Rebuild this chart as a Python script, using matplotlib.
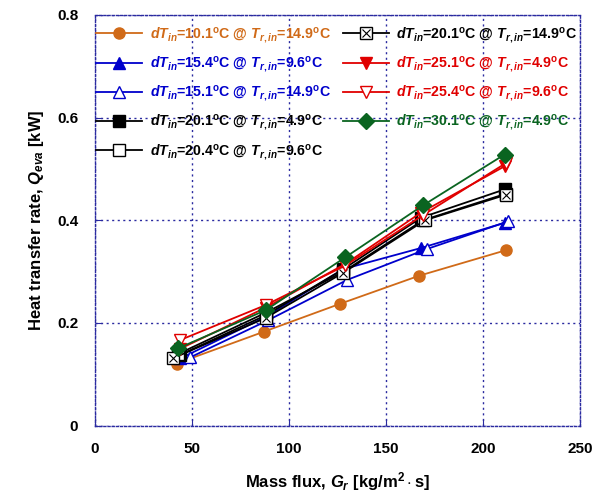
import matplotlib
matplotlib.use("Agg")
import matplotlib.pyplot as plt
from matplotlib.legend_handler import HandlerTuple

plt.rcParams['font.family'] = ['Liberation Sans', 'DejaVu Sans']
plt.rcParams['font.weight'] = 'bold'
plt.rcParams['mathtext.fontset'] = 'custom'
plt.rcParams['mathtext.rm'] = 'Liberation Sans:bold'
plt.rcParams['mathtext.it'] = 'Liberation Sans:italic:bold'
plt.rcParams['mathtext.bf'] = 'Liberation Sans:bold'

# series data: mass flux G_r and Q_eva
labels = [
    r'$dT_{in}$=10.1$^{\rm o}$C @ $T_{r,in}$=14.9$^{\rm o}$C',
    r'$dT_{in}$=15.4$^{\rm o}$C @ $T_{r,in}$=9.6$^{\rm o}$C',
    r'$dT_{in}$=15.1$^{\rm o}$C @ $T_{r,in}$=14.9$^{\rm o}$C',
    r'$dT_{in}$=20.1$^{\rm o}$C @ $T_{r,in}$=4.9$^{\rm o}$C',
    r'$dT_{in}$=20.4$^{\rm o}$C @ $T_{r,in}$=9.6$^{\rm o}$C',
    r'$dT_{in}$=20.1$^{\rm o}$C @ $T_{r,in}$=14.9$^{\rm o}$C',
    r'$dT_{in}$=25.1$^{\rm o}$C @ $T_{r,in}$=4.9$^{\rm o}$C',
    r'$dT_{in}$=25.4$^{\rm o}$C @ $T_{r,in}$=9.6$^{\rm o}$C',
    r'$dT_{in}$=30.1$^{\rm o}$C @ $T_{r,in}$=4.9$^{\rm o}$C',
]
x_vals = [
    [42, 87, 126, 167, 212],
    [44, 88, 128, 168, 211],
    [49, 89, 130, 171, 213],
    [44, 88, 128, 168, 211],
    [43, 88, 128, 169, 212],
    [40, 88, 128, 170, 212],
    [44, 88, 129, 168, 211],
    [44, 88, 129, 169, 212],
    [43, 88, 129, 169, 211],
]
q_vals = [
    [0.121, 0.183, 0.237, 0.292, 0.342],
    [0.131, 0.212, 0.305, 0.346, 0.395],
    [0.133, 0.205, 0.284, 0.344, 0.398],
    [0.138, 0.215, 0.305, 0.405, 0.460],
    [0.140, 0.220, 0.300, 0.400, 0.452],
    [0.131, 0.210, 0.298, 0.400, 0.450],
    [0.150, 0.230, 0.315, 0.415, 0.505],
    [0.167, 0.235, 0.312, 0.410, 0.512],
    [0.151, 0.225, 0.328, 0.429, 0.528],
]

orange = '#d06a18'
blue = '#0000cc'
red = '#e00000'
green = '#0a6420'
colors = [orange, blue, blue, 'black', 'black', 'black', red, red, green]
markers = ['o', '^', '^', 's', 's', 's', 'v', 'v', 'D']
filled = [True, True, False, True, False, False, True, False, True]

fig = plt.figure(figsize=(6.05, 4.95), dpi=100)
ax = fig.add_axes([0.157, 0.140, 0.802, 0.830])

handles = []
for i in range(len(labels)):
    c = colors[i]
    fc = c if filled[i] else 'white'
    ln, = ax.plot(x_vals[i], q_vals[i], color=c, lw=1.3, marker=markers[i],
                  markersize=8, markerfacecolor=fc, markeredgecolor=c,
                  markeredgewidth=1.0)
    if i == 5:
        xm, = ax.plot(x_vals[i], q_vals[i], ls='none', marker='x', color=c,
                      markersize=6, markeredgewidth=0.8)
        handles.append((ln, xm))
    else:
        handles.append(ln)

grid_c = '#2a2aa0'
ax.set_xlim(0, 250)
ax.set_ylim(0, 0.8)
ax.set_xticks([0, 50, 100, 150, 200, 250])
ax.set_yticks([0, 0.2, 0.4, 0.6, 0.8])
ax.set_yticklabels(['0', '0.2', '0.4', '0.6', '0.8'])
ax.grid(True, color=grid_c, ls=(0, (1.5, 2.5)), lw=1.0)
ax.set_axisbelow(True)
for sp in ax.spines.values():
    sp.set_color(grid_c)
    sp.set_linestyle((0, (1.5, 1.5)))
    sp.set_linewidth(1.0)
ax.tick_params(direction='in', length=5, color=grid_c, labelsize=11, pad=12)

ax.set_xlabel(r'Mass flux, $G_r$ [kg/m$^2\cdot$s]', fontsize=12,
              fontweight='bold', labelpad=10)
ax.set_ylabel(r'Heat transfer rate, $Q_{eva}$ [kW]', fontsize=12,
              fontweight='bold', labelpad=8)

leg = ax.legend(handles, labels, ncol=2, loc='upper left',
                bbox_to_anchor=(-0.0145, 0.995), frameon=False, fontsize=10.2,
                handlelength=3.25, handletextpad=0.5, columnspacing=0.85,
                labelspacing=0.7, borderaxespad=0.2, numpoints=1,
                handler_map={tuple: HandlerTuple(ndivide=1)})
for txt, c in zip(leg.get_texts(), colors):
    txt.set_color(c)

fig.savefig('out.png', dpi=100)
